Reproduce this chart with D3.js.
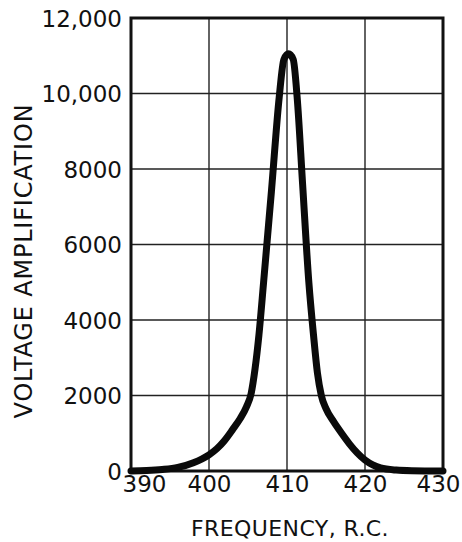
<!DOCTYPE html>
<html>
<head>
<meta charset="utf-8">
<script src="https://cdn.jsdelivr.net/npm/d3@7"></script>
<style>
  html, body { margin: 0; padding: 0; background: #fff; }
  svg { display: block; }
  text { font-family: "DejaVu Sans", sans-serif; fill: #111; }
</style>
</head>
<body>
<svg id="chart" width="462" height="542"></svg>
<script>
// ---- data ----
const frequency = [390, 392, 394, 396, 398, 400, 401, 402, 403, 404, 404.8, 405.4, 405.9, 406.4, 407, 408, 409, 409.6, 410.2, 410.8, 411.3, 412, 412.8, 413.4, 413.9, 414.4, 415, 416, 417, 418, 419, 420, 421, 422, 424, 426, 430];
const amplification = [0, 12, 40, 95, 220, 430, 590, 810, 1090, 1390, 1700, 2050, 2700, 3600, 5000, 7400, 9900, 10900, 11050, 10900, 9900, 7600, 5000, 3600, 2600, 2000, 1650, 1300, 1000, 720, 480, 290, 160, 80, 25, 8, 0];
const xTicks = [390, 400, 410, 420, 430];
const xTickLabels = ["390", "400", "410", "420", "430"];
const yTicks = [0, 2000, 4000, 6000, 8000, 10000, 12000];
const yTickLabels = ["0", "2000", "4000", "6000", "8000", "10,000", "12,000"];
const xTitle = "FREQUENCY, R.C.";
const yTitle = "VOLTAGE AMPLIFICATION";

// ---- layout ----
const pLeft = 131, pRight = 443, pTop = 18, pBottom = 471;
const svg = d3.select("#chart");

const x = d3.scaleLinear().domain([390, 430]).range([pLeft, pRight]);
const y = d3.scaleLinear().domain([0, 12000]).range([pBottom, pTop]);

// grid
const grid = svg.append("g").attr("stroke", "#222").attr("stroke-width", 1.4);
grid.selectAll("line.vx").data(xTicks.slice(1, -1)).join("line")
  .attr("x1", d => x(d)).attr("x2", d => x(d))
  .attr("y1", pTop).attr("y2", pBottom);
grid.selectAll("line.hy").data(yTicks.slice(1, -1)).join("line")
  .attr("x1", pLeft).attr("x2", pRight)
  .attr("y1", d => y(d)).attr("y2", d => y(d));

// frame
svg.append("rect")
  .attr("x", pLeft).attr("y", pTop)
  .attr("width", pRight - pLeft).attr("height", pBottom - pTop)
  .attr("fill", "none").attr("stroke", "#111").attr("stroke-width", 3);

// curve
const pts = frequency.map((f, i) => [f, amplification[i]]);
const line = d3.line()
  .x(d => x(d[0])).y(d => y(d[1]))
  .curve(d3.curveMonotoneX);
svg.append("path")
  .datum(pts)
  .attr("d", line)
  .attr("fill", "none")
  .attr("stroke", "#0a0a0a")
  .attr("stroke-width", 7)
  .attr("stroke-linecap", "round")
  .attr("stroke-linejoin", "round");

// x axis labels
const xAxis = d3.axisBottom(x).tickValues(xTicks)
  .tickFormat((d, i) => xTickLabels[i]).tickSize(0).tickPadding(0);
const gx = svg.append("g").attr("transform", `translate(0,${pBottom})`).call(xAxis);
gx.select(".domain").remove();
gx.selectAll("text")
  .attr("y", 21).attr("dy", 0)
  .attr("font-size", 23)
  .attr("font-family", "DejaVu Sans, sans-serif")
  .attr("fill", "#111")
  .attr("dx", (d, i) => i === 0 ? 13 : (i === xTicks.length - 1 ? -5 : 0));

// y axis labels
const yAxis = d3.axisLeft(y).tickValues(yTicks)
  .tickFormat((d, i) => yTickLabels[i]).tickSize(0).tickPadding(0);
const gy = svg.append("g").attr("transform", `translate(${pLeft},0)`).call(yAxis);
gy.select(".domain").remove();
gy.selectAll("text")
  .attr("x", -9).attr("dy", "0.36em")
  .attr("font-size", 23)
  .attr("font-family", "DejaVu Sans, sans-serif")
  .attr("fill", "#111");

// titles
svg.append("text")
  .attr("x", 290).attr("y", 536)
  .attr("text-anchor", "middle")
  .attr("font-size", 22)
  .attr("letter-spacing", 0.4)
  .text(xTitle);
svg.append("text")
  .attr("transform", "translate(31.5,261) rotate(-90)")
  .attr("text-anchor", "middle")
  .attr("font-size", 24)
  .attr("letter-spacing", 0.8)
  .text(yTitle);
</script>
</body>
</html>
